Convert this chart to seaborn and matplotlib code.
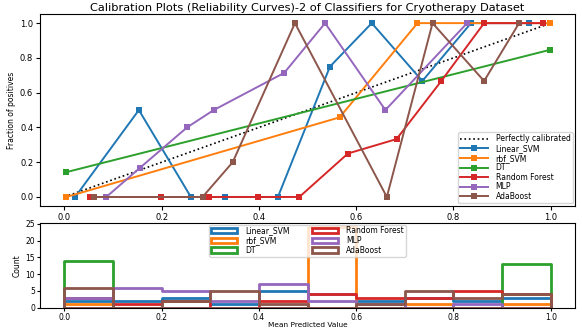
import numpy as np
import pandas as pd
import matplotlib
matplotlib.use("Agg")
import matplotlib.pyplot as plt
import seaborn as sns

# ---- calibration curves (mean predicted value, fraction of positives) ----
lin_x = [0.022, 0.153, 0.26, 0.331, 0.439, 0.546, 0.632, 0.736, 0.836, 0.955]
lin_y = [0.0, 0.5, 0.0, 0.0, 0.0, 0.75, 1.0, 0.667, 1.0, 1.0]
rbf_x = [0.004, 0.566, 0.726, 0.998]
rbf_y = [0.0, 0.458, 1.0, 1.0]
dt_x = [0.004, 0.998]
dt_y = [0.143, 0.846]
rf_x = [0.052, 0.198, 0.297, 0.398, 0.483, 0.583, 0.683, 0.775, 0.863, 0.984]
rf_y = [0.0, 0.0, 0.0, 0.0, 0.0, 0.25, 0.333, 0.667, 1.0, 1.0]
mlp_x = [0.086, 0.155, 0.252, 0.307, 0.452, 0.536, 0.66, 0.828]
mlp_y = [0.0, 0.167, 0.4, 0.5, 0.714, 1.0, 0.5, 1.0]
ada_x = [0.06, 0.284, 0.346, 0.474, 0.663, 0.757, 0.863, 0.935]
ada_y = [0.0, 0.0, 0.2, 1.0, 0.0, 1.0, 0.667, 1.0]

# ---- histogram counts per bin (10 bins on [0, 1]) ----
bin_centers = [0.05, 0.15, 0.25, 0.35, 0.45, 0.55, 0.65, 0.75, 0.85, 0.95]
lin_counts = [2, 2, 3, 1, 5, 4, 2, 3, 2, 3]
rbf_counts = [1, 0, 0, 0, 0, 24, 0, 1, 0, 1]
dt_counts = [14, 0, 0, 0, 0, 0, 0, 0, 0, 13]
rf_counts = [3, 1, 2, 0, 2, 4, 3, 3, 5, 4]
mlp_counts = [3, 6, 5, 2, 7, 2, 1, 0, 1, 0]
ada_counts = [6, 0, 2, 5, 1, 0, 1, 5, 3, 4]

names = ["Linear_SVM", "rbf_SVM", "DT", "Random Forest", "MLP", "AdaBoost"]
curves = [(lin_x, lin_y), (rbf_x, rbf_y), (dt_x, dt_y), (rf_x, rf_y),
          (mlp_x, mlp_y), (ada_x, ada_y)]
counts = [lin_counts, rbf_counts, dt_counts, rf_counts, mlp_counts, ada_counts]
colors = sns.color_palette("tab10", 6)

plt.rcParams["font.family"] = ["DejaVu Sans"]
fig = plt.figure(figsize=(5.82, 3.28), dpi=100)
ax1 = fig.add_axes([0.069, 0.373, 0.919, 0.583])
ax2 = fig.add_axes([0.069, 0.062, 0.919, 0.258])

perfect = pd.DataFrame({"x": [0, 1], "y": [0, 1]})
sns.lineplot(data=perfect, x="x", y="y", ax=ax1, color="k", linestyle=":",
             linewidth=1.2, label="Perfectly calibrated")
for name, (cx, cy), c in zip(names, curves, colors):
    df = pd.DataFrame({"x": cx, "y": cy})
    sns.lineplot(data=df, x="x", y="y", ax=ax1, color=c, marker="s",
                 markersize=4, markeredgewidth=0, linewidth=1.4, label=name)

ax1.set_xlim(-0.05, 1.05)
ax1.set_ylim(-0.05, 1.05)
ax1.set_xlabel("")
ax1.set_ylabel("Fraction of positives", fontsize=5.5, labelpad=3)
ax1.set_title("Calibration Plots (Reliability Curves)-2 of Classifiers for Cryotherapy Dataset",
              fontsize=8.2, pad=2.5)
ax1.legend(loc="lower right", fontsize=5.5, handlelength=3.6, labelspacing=0.08,
           borderpad=0.3, handletextpad=1.0, borderaxespad=0.3)
ax1.tick_params(labelsize=6, length=3, pad=2)

for name, cnt, c in zip(names, counts, colors):
    sns.histplot(x=bin_centers, weights=cnt, bins=10, binrange=(0, 1),
                 element="step", fill=True, color=c, facecolor="none", edgecolor=c,
                 linewidth=2, ax=ax2, label=name)

ax2.set_xlim(-0.05, 1.05)
ax2.set_ylim(0, 25.2)
ax2.set_yticks([0, 5, 10, 15, 20, 25])
ax2.set_xlabel("Mean Predicted Value", fontsize=5.3, labelpad=0.5)
ax2.set_ylabel("Count", fontsize=5.5, labelpad=3)
ax2.legend(loc="upper center", ncol=2, fontsize=5.5, labelspacing=0.08,
           borderpad=0.25, handlelength=3.4, handletextpad=1.0,
           columnspacing=3.0, borderaxespad=0.2)
ax2.tick_params(labelsize=5.5, length=2.5, pad=1)

fig.savefig("out.png", dpi=100)
